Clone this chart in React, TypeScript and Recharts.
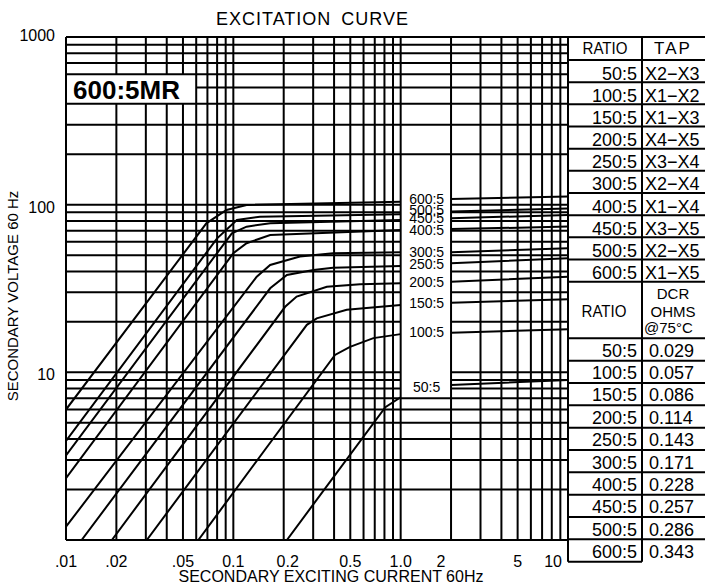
import { LineChart, Line, XAxis, YAxis, ReferenceLine, ReferenceDot } from 'recharts';

const FONT = '"Liberation Sans", Arial, sans-serif';
const INK = '#000';

// axis ticks
const xTicks = [0.01, 0.02, 0.05, 0.1, 0.2, 0.5, 1, 2, 5, 10];
const xTickLabels = ['.01', '.02', '.05', '0.1', '0.2', '0.5', '1.0', '2', '5', '10'];
const yTicks = [10, 100, 1000];

// log paper grid
const xGrid = [0.01, 0.02, 0.03, 0.04, 0.05, 0.06, 0.07, 0.08, 0.09, 0.1, 0.2, 0.3, 0.4, 0.5, 0.6, 0.7, 0.8, 0.9, 1, 2, 3, 4, 5, 6, 7, 8, 9, 10];
const yGrid = [1, 2, 3, 4, 5, 6, 7, 8, 9, 10, 20, 30, 40, 50, 60, 70, 80, 90, 100, 200, 300, 400, 500, 600, 700, 800, 900, 1000];

// excitation curves: [current A, voltage V]
const r600 = [[0.01, 6.0], [0.069, 77.4], [0.091, 93], [0.12, 99.6], [1, 104.2], [2, 108], [10, 112]];
const r500 = [[0.01, 3.9], [0.08, 63], [0.105, 81], [0.144, 84.8], [1, 87.7], [2, 91], [10, 95]];
const r450 = [[0.01, 3.2], [0.098, 67.5], [0.12, 73.9], [0.166, 77.5], [1, 81.1], [2, 83], [10, 86.8]];
const r400 = [[0.01, 2.34], [0.1, 51.3], [0.12, 58.9], [0.166, 65.9], [1, 70.7], [2, 71.5], [10, 74]];
const r300 = [[0.01, 1.2], [0.138, 37.2], [0.166, 43.7], [0.25, 49], [0.394, 51.3], [1, 52], [2, 52], [10, 55]];
const r250 = [[0.0124, 1], [0.166, 31.7], [0.209, 38.1], [0.301, 40.8], [0.394, 42.1], [1, 43.1], [2, 44.7], [10, 47.9]];
const r200 = [[0.0188, 1], [0.204, 24.6], [0.239, 28.3], [0.362, 32.4], [0.572, 33.5], [1, 34], [2, 34.7], [10, 37.2]];
const r150 = [[0.0304, 1], [0.275, 19.2], [0.315, 21], [0.476, 23.6], [1, 25.2], [2, 26], [10, 27.3]];
const r100 = [[0.0618, 1], [0.405, 12.7], [0.498, 14.2], [0.687, 16], [1, 16.9], [2, 17.2], [10, 18.1]];
const r50 = [[0.209, 1], [0.81, 6.2], [1, 7.1], [2, 8.4], [10, 9]];

const curveNames = ['600:5', '500:5', '450:5', '400:5', '300:5', '250:5', '200:5', '150:5', '100:5', '50:5'];
const curves = [r600, r500, r450, r400, r300, r250, r200, r150, r100, r50];
const labelV = [108, 93.5, 83.5, 71, 52.5, 44, 34.4, 25.8, 17.3, 8.2];

// tap / resistance table
const tableRatios = ['50:5', '100:5', '150:5', '200:5', '250:5', '300:5', '400:5', '450:5', '500:5', '600:5'];
const taps = ['X2−X3', 'X1−X2', 'X1−X3', 'X4−X5', 'X3−X4', 'X2−X4', 'X1−X4', 'X3−X5', 'X2−X5', 'X1−X5'];
const dcr = ['0.029', '0.057', '0.086', '0.114', '0.143', '0.171', '0.228', '0.257', '0.286', '0.343'];

// break each curve between 1.0 and 2 where the labels sit
function toPoints(c: number[][]) {
  const out: { x: number; y: number | null }[] = [];
  c.forEach(([x, y], i) => {
    out.push({ x, y });
    if (x === 1 && c[i + 1] && c[i + 1][0] === 2) out.push({ x: 1.5, y: null });
  });
  return out;
}

const LW = 2;

function XTick(props: any) {
  const { x, y, payload } = props;
  const i = xTicks.indexOf(payload.value);
  let dx = 0;
  let anchor = 'middle';
  if (payload.value === 2) dx = -10;
  if (payload.value === 0.2) dx = 4;
  if (payload.value === 10) {
    dx = -6;
    anchor = 'end';
  }
  return (
    <text x={x + dx} y={y + 26.5} textAnchor={anchor} fontSize={16} fontFamily={FONT} fill={INK}>
      {xTickLabels[i] ?? ''}
    </text>
  );
}

function YTick(props: any) {
  const { x, y, payload } = props;
  return (
    <text x={x - 11} y={y + (payload.value === 1000 ? 3.7 : 8)} textAnchor="end" fontSize={16} fontFamily={FONT} fill={INK}>
      {payload.value}
    </text>
  );
}

function gridLines() {
  const els: any[] = [];
  xGrid.forEach((v) => {
    if ([0.02, 0.03, 0.04, 0.05].includes(v)) {
      els.push(<ReferenceLine key={'xa' + v} segment={[{ x: v, y: 1 }, { x: v, y: 400 }]} stroke={INK} strokeWidth={LW} />);
      els.push(<ReferenceLine key={'xb' + v} segment={[{ x: v, y: 600 }, { x: v, y: 1000 }]} stroke={INK} strokeWidth={LW} />);
    } else {
      els.push(<ReferenceLine key={'x' + v} x={v} stroke={INK} strokeWidth={LW} />);
    }
  });
  yGrid.forEach((v) => {
    if (v >= 8 && v <= 100) {
      els.push(<ReferenceLine key={'ya' + v} segment={[{ x: 0.01, y: v }, { x: 1, y: v }]} stroke={INK} strokeWidth={LW} />);
      els.push(<ReferenceLine key={'yb' + v} segment={[{ x: 2, y: v }, { x: 10, y: v }]} stroke={INK} strokeWidth={LW} />);
    } else if (v === 500) {
      els.push(<ReferenceLine key={'y' + v} segment={[{ x: 0.06, y: v }, { x: 10, y: v }]} stroke={INK} strokeWidth={LW} />);
    } else {
      els.push(<ReferenceLine key={'y' + v} y={v} stroke={INK} strokeWidth={LW} />);
    }
  });
  return els;
}

function Table() {
  const L = 568, M = 642, R = 705;
  const upTop = 60, upRow = 22.17;
  const loTop = 338.3, loRow = 22.34;
  const bottom = loTop + 10 * loRow;
  const t = { fontFamily: FONT, fill: INK } as const;
  return (
    <g>
      <line x1={L} y1={37} x2={L} y2={bottom} stroke={INK} strokeWidth={LW} />
      <line x1={M} y1={37} x2={M} y2={bottom} stroke={INK} strokeWidth={LW} />
      <line x1={L} y1={37} x2={R} y2={37} stroke={INK} strokeWidth={LW} />
      {Array.from({ length: 11 }, (_, i) => (
        <line key={'u' + i} x1={L} y1={upTop + i * upRow} x2={R} y2={upTop + i * upRow} stroke={INK} strokeWidth={LW} />
      ))}
      {Array.from({ length: 11 }, (_, i) => (
        <line key={'l' + i} x1={L} y1={loTop + i * loRow} x2={i === 10 ? M : R} y2={loTop + i * loRow} stroke={INK} strokeWidth={LW} />
      ))}
      <text x={605} y={54} textAnchor="middle" fontSize={17} textLength={45} lengthAdjust="spacingAndGlyphs" {...t}>RATIO</text>
      <text x={673} y={54} textAnchor="middle" fontSize={17} letterSpacing={2} {...t}>TAP</text>
      {tableRatios.map((r, i) => (
        <text key={'ur' + i} x={637} y={upTop + i * upRow + 19.5} textAnchor="end" fontSize={18} {...t}>{r}</text>
      ))}
      {taps.map((s, i) => (
        <text key={'tp' + i} x={645} y={upTop + i * upRow + 19.5} fontSize={18} {...t}>{s}</text>
      ))}
      <text x={604} y={316.5} textAnchor="middle" fontSize={16} textLength={45} lengthAdjust="spacingAndGlyphs" {...t}>RATIO</text>
      <text x={673} y={298.5} textAnchor="middle" fontSize={15} {...t}>DCR</text>
      <text x={673} y={316.5} textAnchor="middle" fontSize={15} {...t}>OHMS</text>
      <text x={644} y={333} fontSize={15} {...t}>@75°C</text>
      {tableRatios.map((r, i) => (
        <text key={'lr' + i} x={637} y={loTop + i * loRow + 18.5} textAnchor="end" fontSize={18} {...t}>{r}</text>
      ))}
      {dcr.map((s, i) => (
        <text key={'dc' + i} x={649} y={loTop + i * loRow + 18.5} fontSize={18} {...t}>{s}</text>
      ))}
    </g>
  );
}

export default function App() {
  return (
    <div style={{ position: 'absolute', left: 0, top: 0, width: 705, height: 586, background: '#fff' }}>
      <LineChart width={705} height={586} margin={{ top: 37, right: 137, bottom: 0, left: 0 }}>
        <XAxis
          type="number"
          dataKey="x"
          scale="log"
          domain={[0.01, 10]}
          allowDataOverflow
          ticks={xTicks}
          interval={0}
          height={46}
          axisLine={false}
          tickLine={false}
          tickSize={0}
          tickMargin={0}
          tick={<XTick />}
        />
        <YAxis
          type="number"
          dataKey="y"
          scale="log"
          domain={[1, 1000]}
          allowDataOverflow
          ticks={yTicks}
          interval={0}
          width={66}
          axisLine={false}
          tickLine={false}
          tickSize={0}
          tickMargin={0}
          tick={<YTick />}
        />
        {gridLines()}
        {curves.map((c, i) => (
          <Line
            key={curveNames[i]}
            data={toPoints(c)}
            dataKey="y"
            type="linear"
            stroke={INK}
            strokeWidth={LW}
            dot={false}
            activeDot={false}
            connectNulls={false}
            isAnimationActive={false}
          />
        ))}
        {curveNames.map((n, i) => (
          <ReferenceDot
            key={'lb' + n}
            x={1.43}
            y={labelV[i]}
            r={1}
            fill="none"
            stroke="none"
            label={{ value: n, position: 'center', fill: INK, fontSize: 14, fontFamily: FONT }}
          />
        ))}
      </LineChart>
      <svg width={705} height={586} style={{ position: 'absolute', left: 0, top: 0, pointerEvents: 'none' }}>
        <text x={312.5} y={25} textAnchor="middle" fontSize={18} letterSpacing={1} wordSpacing={4} fontFamily={FONT} fill={INK}>
          EXCITATION CURVE
        </text>
        <text x={73} y={99} fontSize={26} fontWeight="bold" fontFamily={FONT} fill={INK}>600:5MR</text>
        <text x={331} y={581.5} textAnchor="middle" fontSize={16} fontFamily={FONT} fill={INK}>
          SECONDARY EXCITING CURRENT 60Hz
        </text>
        <text
          x={0}
          y={0}
          transform="translate(18.3 296) rotate(-90)"
          textAnchor="middle"
          fontSize={15}
          fontFamily={FONT}
          fill={INK}
        >
          SECONDARY VOLTAGE 60 Hz
        </text>
        <Table />
      </svg>
    </div>
  );
}
